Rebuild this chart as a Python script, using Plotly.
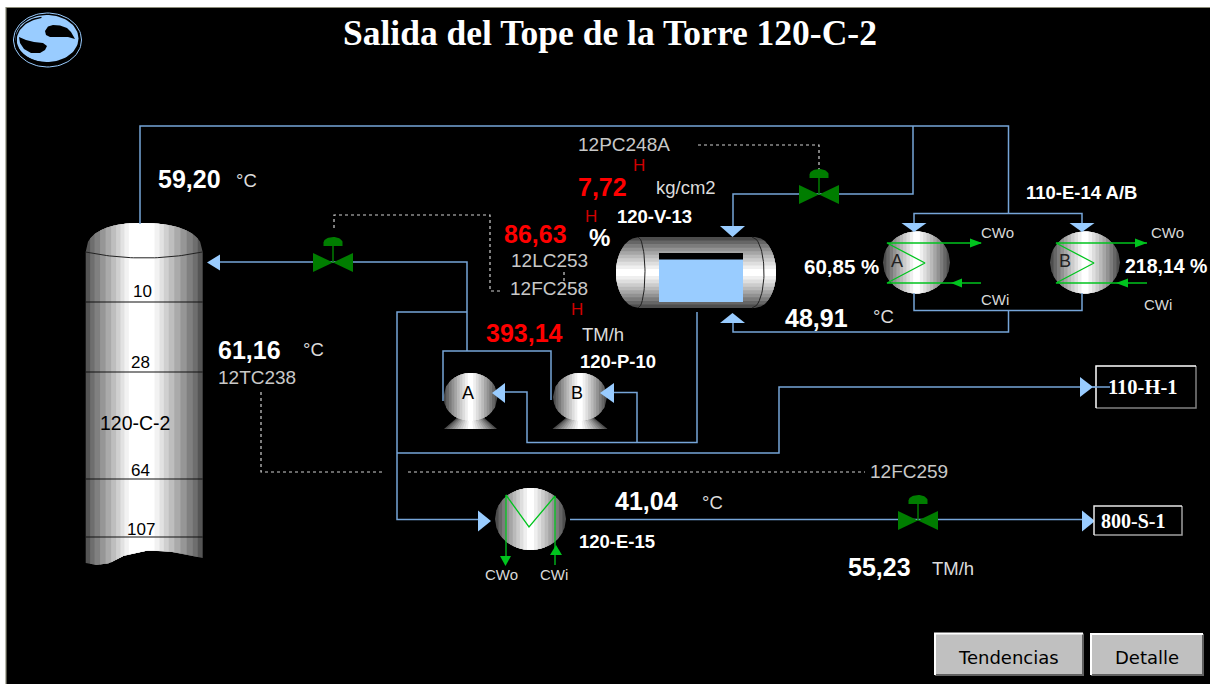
import numpy as np
import plotly.graph_objects as go

# ---------- data: process readings and labels ----------
TITLE = "Salida del Tope de la Torre 120-C-2"
WHITE_VALUES = [("59,20", 158, 179), ("61,16", 218, 350), ("48,91", 785, 318),
                ("41,04", 615, 501), ("55,23", 848, 567)]
RED_VALUES = [("7,72", 578, 187), ("86,63", 504, 234), ("393,14", 486, 333)]
UNITS = [("°C", 236, 180), ("°C", 303, 349), ("kg/cm2", 656, 187), ("TM/h", 582, 334),
         ("°C", 873, 316), ("°C", 702, 502), ("TM/h", 932, 568)]
TAGS = [("12PC248A", 578, 144), ("12LC253", 511, 260), ("12FC258", 510, 288),
        ("12TC238", 218, 377), ("12FC259", 870, 471)]
ALARMS = [("H", 639, 165), ("H", 591, 216), ("H", 577, 309)]
EQUIP_BOLD = [("120-V-13", 617, 216), ("110-E-14 A/B", 1026, 192),
              ("120-P-10", 580, 361), ("120-E-15", 579, 541)]
PERCENTS = [("60,85 %", 804, 266, 20.5), ("218,14 %", 1125, 266, 19.5)]
COOLING = [("CWo", 981, 232), ("CWi", 981, 299), ("CWo", 1151, 232), ("CWi", 1144, 304)]
COOLING_SMALL = [("CWo", 501, 574), ("CWi", 554, 574)]
TRAYS = [("10", 142, 291), ("28", 140, 362), ("64", 140, 470), ("107", 141, 529)]
TRAY_LINES = [302, 372, 479, 537]

PIPES = [
    [(140, 224), (140, 126), (1008.5, 126), (1008.5, 213.5)],
    [(913, 126), (913, 194), (733, 194), (733, 227)],
    [(914, 224), (914, 213.5), (1082, 213.5), (1082, 224)],
    [(914, 293), (914, 310.5), (1082, 310.5), (1082, 293)],
    [(1008.5, 310.5), (1008.5, 332), (733, 332), (733, 322)],
    [(697, 312), (697, 442.5), (527, 442.5), (527, 392), (505, 392)],
    [(637, 442.5), (637, 392.5), (613, 392.5)],
    [(443, 401), (443, 351), (551, 351), (551, 400)],
    [(467, 351), (467, 262), (220, 262)],
    [(467, 312), (397, 312), (397, 519.5), (479, 519.5)],
    [(397, 453), (779, 453), (779, 387), (1110, 387)],
    [(570, 519.5), (1083, 519.5)],
]
DOTTED = [
    [(698, 145), (819, 145), (819, 170)],
    [(334, 228), (334, 215), (490, 215), (490, 291), (503, 291)],
    [(261, 392), (261, 472), (385, 472)],
    [(408, 472), (865, 472)],
    [(564, 272), (564, 281)],
]
ARROWS = [
    ("left", 207, 262.5, 13, 8), ("down", 732.5, 237, 11, 12.5), ("up", 732.5, 313, 10, 12.5),
    ("down", 914, 232, 9, 12.5), ("down", 1082, 232, 9, 12.5),
    ("left", 492, 393, 13, 10), ("left", 600, 393, 14, 10),
    ("right", 491, 521, 13, 10.5), ("right", 1093, 387, 13, 10), ("right", 1095, 521, 13, 10.5),
]
VALVES = [(333, 262.5), (819, 194.5), (918, 520.5)]
GRAYS = ["#4d4d4d", "#666666", "#7c7c7c", "#929292", "#a6a6a6",
         "#bababa", "#cccccc", "#dedede", "#efefef", "#ffffff"]
FRACS = [1.0, .90, .80, .70, .60, .50, .40, .30, .20, .10]
COL_GRAYS = ["#555555", "#6e6e6e", "#808080", "#969696", "#aaaaaa",
             "#bebebe", "#d0d0d0", "#e2e2e2", "#f2f2f2", "#ffffff"]
COL_FRACS = [1.0, .92, .84, .74, .64, .54, .45, .37, .30, .22]

PIPE = "#76a5d8"
SKY = "#99ccff"
VALVE_GREEN = "#007d00"
COIL = "#00c41e"

fig = go.Figure()


def poly(xs, ys, color):
    fig.add_trace(go.Scatter(x=list(xs), y=list(ys), mode="lines", fill="toself",
                             fillcolor=color, line=dict(width=0, color=color),
                             hoverinfo="skip", showlegend=False))


def path(pts, color, width=1.5, dash=None):
    fig.add_trace(go.Scatter(x=[p[0] for p in pts], y=[p[1] for p in pts], mode="lines",
                             line=dict(color=color, width=width, dash=dash),
                             hoverinfo="skip", showlegend=False))


def label(text, x, y, size, color, bold=False, family="Liberation Sans", anchor="left"):
    fig.add_annotation(x=x, y=y, text=f"<b>{text}</b>" if bold else text, showarrow=False,
                       xanchor=anchor, yanchor="middle", borderpad=0, borderwidth=0,
                       font=dict(size=size, color=color, family=family))


def ellipse_xy(cx, cy, rx, ry, n=80):
    t = np.linspace(0, 2 * np.pi, n)
    return cx + rx * np.cos(t), cy + ry * np.sin(t)


def sphere(cx, cy, rx, ry):
    for g, f in zip(GRAYS, FRACS):
        x = np.linspace(-f * rx, f * rx, 50)
        h = ry * np.sqrt(np.clip(1 - (x / rx) ** 2, 0, 1))
        poly(np.r_[cx + x, (cx + x)[::-1]], np.r_[cy - h, (cy + h)[::-1]], g)


def pump(cx, cy, rx, ry, base_top, base_bot, wt, wb):
    for g, f in zip(GRAYS, FRACS):
        poly([cx - f * wt, cx + f * wt, cx + f * wb, cx - f * wb],
             [base_top, base_top, base_bot, base_bot], g)
    sphere(cx, cy, rx, ry)


def valve(cx, cy, hw=20, hh=9.5):
    path([(cx, cy), (cx, cy - 19)], VALVE_GREEN, 1.5)
    poly([cx - hw, cx, cx - hw], [cy - hh, cy, cy + hh], VALVE_GREEN)
    poly([cx + hw, cx, cx + hw], [cy - hh, cy, cy + hh], VALVE_GREEN)
    t = np.linspace(np.pi, 2 * np.pi, 30)
    poly(np.r_[cx + 9.5 * np.cos(t), cx + 9.5, cx - 9.5],
         np.r_[cy - 20 + 5.5 * np.sin(t), cy - 16.5, cy - 16.5], VALVE_GREEN)


def arrow(direction, tx, ty, length, half, color=SKY):
    if direction == "left":
        poly([tx, tx + length, tx + length], [ty, ty - half, ty + half], color)
    elif direction == "right":
        poly([tx, tx - length, tx - length], [ty, ty - half, ty + half], color)
    elif direction == "down":
        poly([tx, tx - half, tx + half], [ty, ty - length, ty - length], color)
    else:
        poly([tx, tx - half, tx + half], [ty, ty + length, ty + length], color)


def raised_box(x0, y0, x1, y1, fill, light, dark, width=1.5):
    poly([x0, x1, x1, x0], [y0, y0, y1, y1], fill)
    path([(x0, y1), (x1, y1), (x1, y0)], dark, width)
    path([(x0, y1), (x0, y0), (x1, y0)], light, width)


# ---------- frame ----------
poly([6, 1210, 1210, 6], [7.5, 7.5, 684, 684], "#000000")
path([(6, 684), (6, 7.5), (1210, 7.5)], "#8a8a78", 1.2)

# ---------- logo ----------
x, y = ellipse_xy(47.5, 40, 34, 27)
path(list(zip(x, y)), "#99ccff", 1)
x, y = ellipse_xy(47, 38.5, 31.5, 23.5)
poly(x, y, SKY)
x, y = ellipse_xy(47, 40, 31, 23)
path(list(zip(x[22:58], y[22:58])), "#000000", 1.5)
poly([45, 48, 53, 60, 67, 71, 75, 68, 58, 50, 46],
     [31, 26.5, 25, 25.5, 28, 32, 39, 37, 37, 37, 35], "#000000")
poly([19, 26, 34, 43, 47, 45, 40, 31, 24, 20],
     [37, 40, 42, 43, 46, 50, 53, 53, 49, 43], "#000000")

# ---------- column 120-C-2 ----------
col_cx, col_l, col_r, col_shoulder, col_rise = 141, 55.3, 61.7, 252, 29
bot_x = [85.7, 97, 110, 125, 150, 175, 202.7]
bot_y = [563, 565, 563, 555, 550, 552, 558]
for g, f in zip(COL_GRAYS, COL_FRACS):
    xs = np.r_[np.linspace(-f * col_l, 0, 25), np.linspace(0, f * col_r, 25)[1:]]
    u = np.where(xs < 0, xs / col_l, xs / col_r)
    top = col_shoulder - col_rise * (1 - np.abs(u) ** 2.3) ** (1 / 2.3)
    bot = np.interp(col_cx + xs, bot_x, bot_y)
    poly(np.r_[col_cx + xs, (col_cx + xs)[::-1]], np.r_[top, bot[::-1]], g)
xs = np.linspace(85.7, 202.7, 40)
path(list(zip(xs, 252 + 6 * (1 - ((xs - 144) / 58.5) ** 2))), "#222222", 1)
for ty in TRAY_LINES:
    path([(85.7, ty), (202.7, ty)], "#111111", 1.2)

# ---------- vessel 120-V-13 ----------
v_cy, v_h = 272.5, 35.5
for g, f in zip(GRAYS, FRACS):
    ys = np.linspace(-f * v_h, f * v_h, 50)
    cap = np.sqrt(np.clip(1 - (ys / v_h) ** 2, 0, 1))
    poly(np.r_[639 - 23 * cap, (755 + 21 * cap)[::-1]], np.r_[v_cy + ys, (v_cy + ys)[::-1]], g)
ys = np.linspace(-v_h, v_h, 30)
cap = np.sqrt(1 - (ys / v_h) ** 2)
path(list(zip(638 + 7 * cap, v_cy + ys)), "#222222", 1)
path(list(zip(752 + 12 * cap, v_cy + ys)), "#222222", 1)
poly([659, 743, 743, 659], [253, 253, 302, 302], "#000000")
poly([659, 743, 743, 659], [259.5, 259.5, 302, 302], SKY)

# ---------- heat exchangers and pumps ----------
sphere(916.5, 262.5, 33.5, 31)
sphere(1085, 262.5, 35, 31)
sphere(530.5, 519, 35.5, 31)
pump(470.5, 397, 27, 24, 413, 429, 8, 26.5)
pump(580, 397, 27, 24, 413, 429, 8, 27.5)

# ---------- pipes ----------
for p in PIPES:
    path(p, PIPE, 1.5)
for p in DOTTED:
    path(p, "#d0d0d0", 1.2, "3px,3px")

# ---------- cooling coils ----------
for left, tip, right in [(887, 925, 981), (1056, 1094, 1147)]:
    path([(right, 243), (left, 243), (tip, 263), (left, 283), (right, 283)], COIL, 1.3)
arrow("right", 982, 243, 12, 4.5, COIL)
arrow("left", 951, 283, 11, 4.5, COIL)
arrow("right", 1147, 243, 12, 4.5, COIL)
arrow("left", 1116, 283, 12, 4.5, COIL)
path([(506, 556), (506, 495), (529, 527), (555, 496), (555, 565)], COIL, 1.3)
arrow("down", 505.5, 566, 10, 5.5, COIL)
arrow("up", 556, 545, 10, 6, COIL)

for a in ARROWS:
    arrow(*a)
for v in VALVES:
    valve(*v)

# ---------- tag boxes ----------
raised_box(1096, 366, 1196, 408, "#000000", "#ffffff", "#808080")
path([(1093, 387), (1110, 387)], PIPE, 1.5)
raised_box(1094, 506, 1182, 535, "#000000", "#e8e8e8", "#a0a0a0")
raised_box(935, 633.5, 1083, 675, "#c0c0c0", "#ffffff", "#606060", 2)
raised_box(1091, 634, 1203, 675, "#c0c0c0", "#ffffff", "#606060", 2)

# ---------- text ----------
label(TITLE, 610, 33, 35.5, "#ffffff", True, "Liberation Serif", "center")
for t, x, y in WHITE_VALUES:
    label(t, x, y, 25, "#ffffff", True)
for t, x, y in RED_VALUES:
    label(t, x, y, 25, "#ff0000", True)
label("%", 589, 237, 24, "#ffffff", True)
for t, x, y in UNITS:
    label(t, x, y, 18.5, "#dcdcdc")
for t, x, y in TAGS:
    label(t, x, y, 19, "#c8c8c8")
for t, x, y in ALARMS:
    label(t, x, y, 17, "#d00000", anchor="center")
for t, x, y in EQUIP_BOLD:
    label(t, x, y, 18.5, "#ffffff", True)
for t, x, y, s in PERCENTS:
    label(t, x, y, s, "#ffffff", True)
for t, x, y in COOLING:
    label(t, x, y, 15, "#d8d8d8")
for t, x, y in COOLING_SMALL:
    label(t, x, y, 15, "#d8d8d8", anchor="center")
for t, x, y in TRAYS:
    label(t, x, y, 17, "#000000", anchor="center")
label("120-C-2", 135, 423, 19.5, "#000000", anchor="center")
label("A", 897, 261, 18, "#222222", anchor="center")
label("B", 1065, 261, 18, "#222222", anchor="center")
label("A", 468, 393, 18, "#000000", anchor="center")
label("B", 577, 393, 18, "#000000", anchor="center")
label("110-H-1", 1142, 387, 20.5, "#ffffff", True, "Liberation Serif", "center")
label("800-S-1", 1133, 521, 20, "#ffffff", True, "Liberation Serif", "center")
label("Tendencias", 1008, 657, 18, "#000000", False, "DejaVu Sans", "center")
label("Detalle", 1147, 657, 18, "#000000", False, "DejaVu Sans", "center")

fig.update_layout(width=1210, height=684, margin=dict(l=0, r=0, t=0, b=0),
                  paper_bgcolor="#ffffff", plot_bgcolor="#ffffff", showlegend=False,
                  xaxis=dict(range=[0, 1210], visible=False, fixedrange=True),
                  yaxis=dict(range=[684, 0], visible=False, fixedrange=True))
fig.write_html("out.html", config={"displayModeBar": False},
               post_script="document.body.style.margin='0';document.body.style.overflow='hidden';")
